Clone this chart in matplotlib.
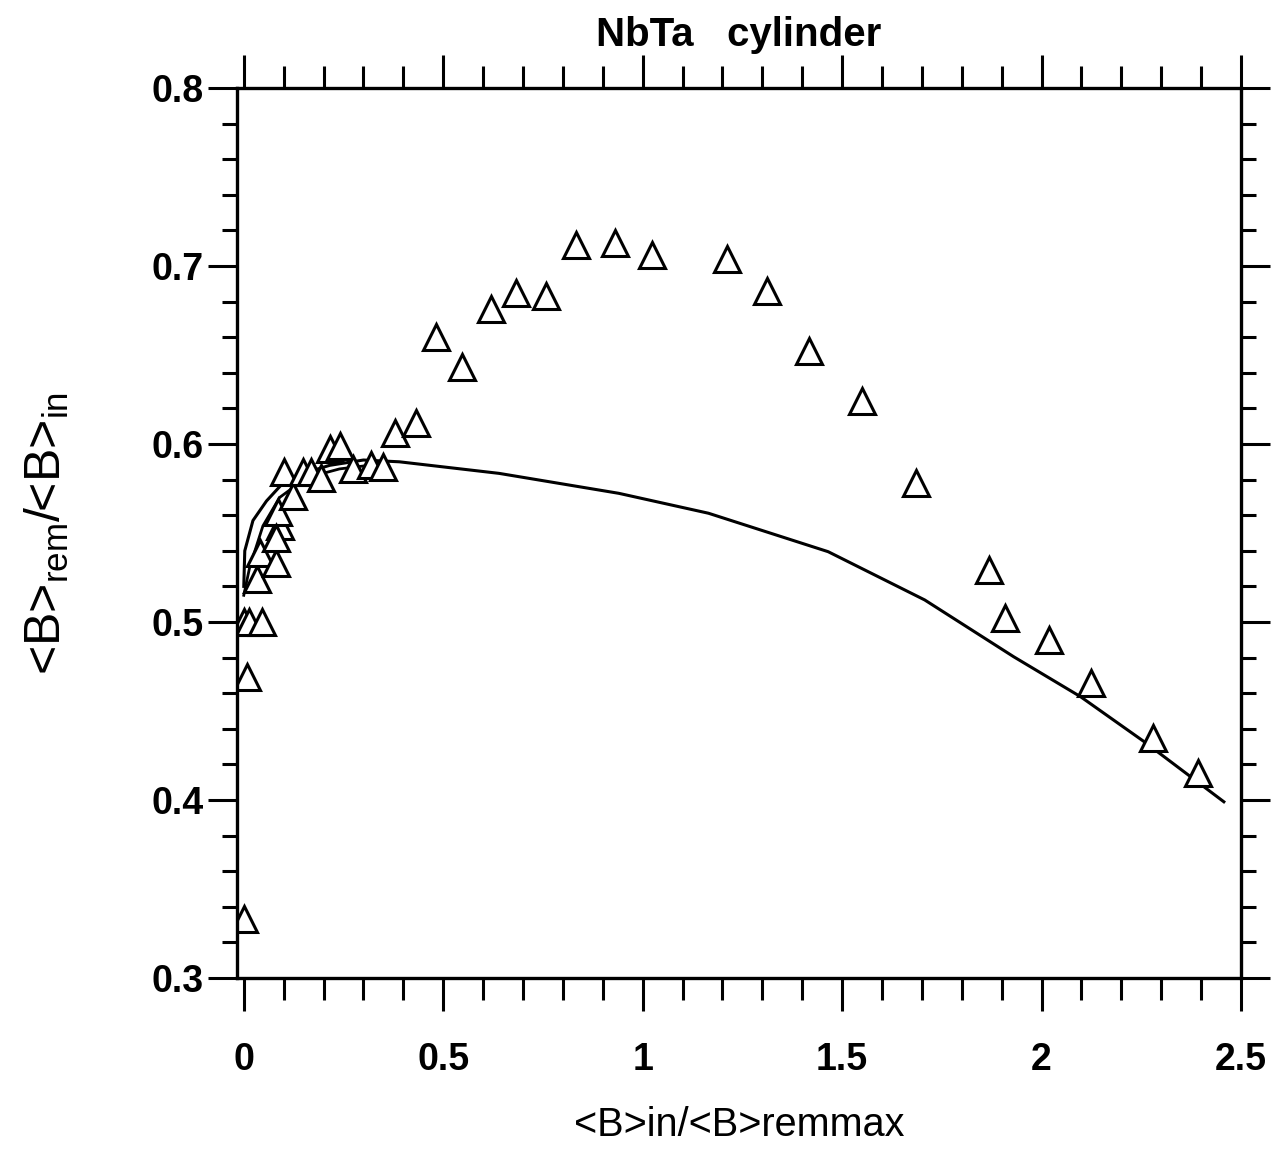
"""NbTa cylinder: remanent/applied flux ratio vs normalised applied field."""
import matplotlib
matplotlib.use("Agg")
import matplotlib.pyplot as plt
from matplotlib.ticker import MultipleLocator

plt.rcParams["font.family"] = ["Liberation Sans", "DejaVu Sans"]
plt.rcParams["mathtext.fontset"] = "custom"
plt.rcParams["mathtext.rm"] = "Liberation Sans"
plt.rcParams["mathtext.it"] = "Liberation Sans"

# measured points (open triangles)
x_meas = [0.0, 0.009, 0.0, 0.012, 0.045, 0.032, 0.04, 0.082, 0.09, 0.086, 0.082,
          0.123, 0.10, 0.148, 0.169, 0.194, 0.215, 0.24, 0.273, 0.319, 0.348,
          0.378, 0.432, 0.4825, 0.5475, 0.62, 0.6825, 0.7575, 0.8325, 0.93,
          1.0225, 1.2125, 1.3125, 1.4175, 1.55, 1.685, 1.8675, 1.9075, 2.0175,
          2.125, 2.28, 2.3925]
y_meas = [0.333, 0.469, 0.500, 0.500, 0.500, 0.524, 0.539, 0.533, 0.554, 0.562, 0.547,
          0.571, 0.584, 0.584, 0.584, 0.581, 0.597, 0.599, 0.586, 0.588, 0.587,
          0.606, 0.612, 0.660, 0.643, 0.676, 0.685, 0.683, 0.712, 0.713,
          0.706, 0.704, 0.686, 0.652, 0.624, 0.578, 0.529, 0.502, 0.490,
          0.466, 0.435, 0.415]

# model curve
x_fit = [0.0, 0.0025, 0.023, 0.057, 0.098, 0.157, 0.215, 0.30, 0.39, 0.64, 0.94,
         1.165, 1.465, 1.707, 1.93, 2.098, 2.257, 2.457]
y_fit = [0.520, 0.540, 0.557, 0.568, 0.578, 0.584, 0.588, 0.591, 0.590, 0.5835, 0.5723,
         0.5611, 0.5395, 0.5124, 0.4805, 0.458, 0.4328, 0.399]

# second (inner) curve near the origin
x_fit2 = [0.0, 0.015, 0.048, 0.09, 0.157, 0.24, 0.35]
y_fit2 = [0.515, 0.531, 0.554, 0.570, 0.581, 0.586, 0.589]

fig = plt.figure(figsize=(12.8, 11.54), dpi=100)
ax = fig.add_axes([237 / 1280, 1 - 978 / 1154, (1241 - 237) / 1280, (978 - 88) / 1154])

ax.plot(x_fit, y_fit, color="black", lw=2.2)
ax.plot(x_fit2, y_fit2, color="black", lw=2.0)
ax.plot(x_meas, y_meas, linestyle="none", marker="^", ms=19, mfc="white",
        mec="black", mew=2.2)

ax.set_xlim(-0.017, 2.5)
ax.set_ylim(0.3, 0.8)
ax.xaxis.set_minor_locator(MultipleLocator(0.1))
ax.yaxis.set_minor_locator(MultipleLocator(0.02))
ax.set_xticks([0, 0.5, 1, 1.5, 2, 2.5])
ax.set_xticklabels(["0", "0.5", "1", "1.5", "2", "2.5"])
ax.set_yticks([0.3, 0.4, 0.5, 0.6, 0.7, 0.8])
ax.set_yticklabels(["0.3", "0.4", "0.5", "0.6", "0.7", "0.8"])

for s in ax.spines.values():
    s.set_linewidth(2.4)
ax.tick_params(which="both", direction="out", top=True, right=True, width=2.2,
               labelsize=27)
ax.tick_params(axis="x", which="major", length=24, pad=22)
ax.tick_params(axis="x", which="minor", length=16)
ax.tick_params(axis="y", which="major", length=21, pad=3)
ax.tick_params(axis="y", which="minor", length=11)
for lab in ax.get_xticklabels() + ax.get_yticklabels():
    lab.set_fontweight("bold")

ax.set_title("NbTa   cylinder", fontsize=29, fontweight="bold", pad=30)
ax.set_xlabel("<B>in/<B>remmax", fontsize=28.5, labelpad=20)
ax.set_ylabel(r"<B>$_{\mathrm{rem}}$/<B>$_{\mathrm{in}}$", fontsize=36, labelpad=58)

fig.savefig("out.png", dpi=100)
